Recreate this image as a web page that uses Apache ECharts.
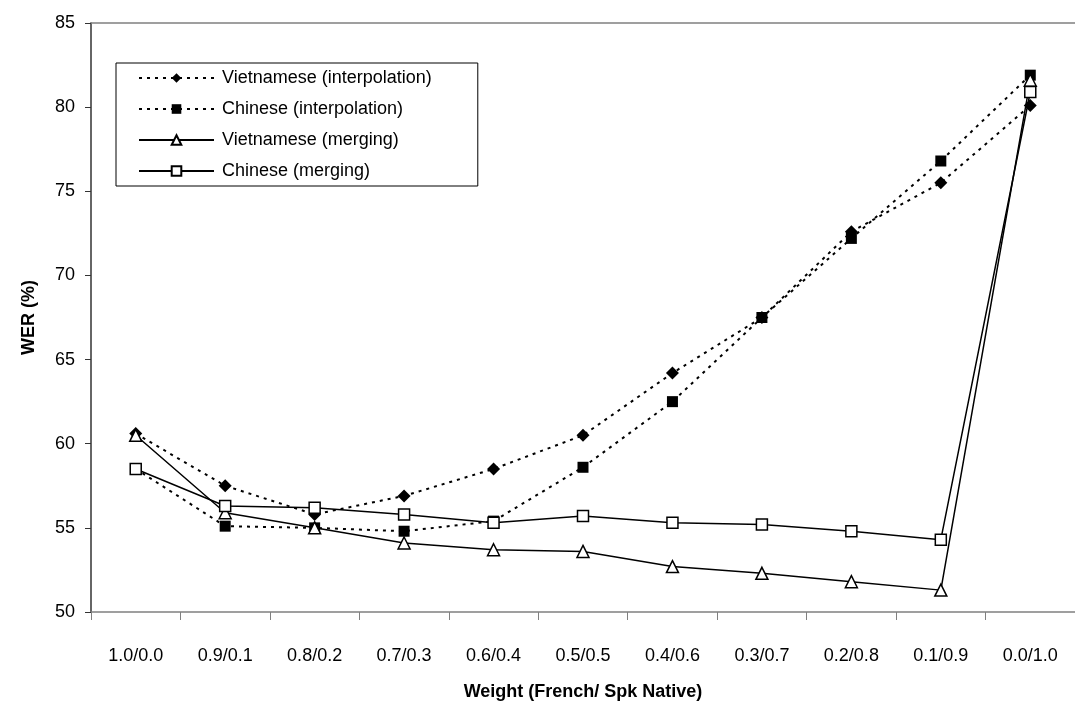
<!DOCTYPE html>
<html>
<head>
    <meta charset="utf-8" />
    <title>WER</title>
    <style>
        html, body { margin: 0; padding: 0; background: #fff; }
        #chart { width: 1075px; height: 702px; }
    </style>
    <script src="https://cdn.jsdelivr.net/npm/echarts@6/dist/echarts.min.js"></script>
</head>
<body>
    <div id="chart"></div>
    <script>
        // 数据
        var categories = ['1.0/0.0', '0.9/0.1', '0.8/0.2', '0.7/0.3', '0.6/0.4', '0.5/0.5',
            '0.4/0.6', '0.3/0.7', '0.2/0.8', '0.1/0.9', '0.0/1.0'];
        var vietInterp = [60.6, 57.5, 55.8, 56.9, 58.5, 60.5, 64.2, 67.5, 72.6, 75.5, 80.1];
        var chineseInterp = [58.5, 55.1, 55.0, 54.8, 55.4, 58.6, 62.5, 67.5, 72.2, 76.8, 81.9];
        var vietMerge = [60.5, 55.9, 55.0, 54.1, 53.7, 53.6, 52.7, 52.3, 51.8, 51.3, 81.6];
        var chineseMerge = [58.5, 56.3, 56.2, 55.8, 55.3, 55.7, 55.3, 55.2, 54.8, 54.3, 80.9];
        var yTicks = [50, 55, 60, 65, 70, 75, 80, 85];

        var font = "'Liberation Sans', Arial, sans-serif";
        var chart = echarts.init(document.getElementById('chart'));

        function lineSeries(name, data, symbol, size, filled, dashed) {
            return {
                name: name,
                type: 'line',
                data: data,
                symbol: symbol,
                symbolSize: size,
                showAllSymbol: true,
                animation: false,
                lineStyle: { color: '#000', width: dashed ? 2 : 1.5, type: dashed ? [3, 5] : 'solid' },
                itemStyle: {
                    color: filled ? '#000' : '#fff',
                    borderColor: '#000',
                    borderWidth: filled ? 0 : 1.5
                }
            };
        }

        var option = {
            backgroundColor: '#fff',
            animation: false,
            textStyle: { fontFamily: font },
            grid: { left: 91, right: 0, top: 23, bottom: 90, outerBoundsMode: 'none', containLabel: false },
            legend: {
                orient: 'vertical',
                left: 116,
                top: 63,
                padding: [6, 46, 6, 22],
                itemWidth: 75,
                itemHeight: 12,
                itemGap: 13,
                borderColor: '#000',
                borderWidth: 1,
                textStyle: { fontSize: 18, color: '#000', fontFamily: font, padding: [0, 0, 0, 3] },
                data: ['Vietnamese (interpolation)', 'Chinese (interpolation)',
                    'Vietnamese (merging)', 'Chinese (merging)']
            },
            xAxis: [{
                type: 'category',
                data: categories,
                boundaryGap: true,
                name: 'Weight (French/ Spk Native)',
                nameLocation: 'middle',
                nameGap: 71,
                nameTextStyle: { fontSize: 18, fontWeight: 'bold', color: '#000', fontFamily: font },
                axisLine: { lineStyle: { color: '#808080', width: 1.5 } },
                axisTick: { show: true, length: 8, alignWithLabel: false, lineStyle: { color: '#808080' } },
                axisLabel: { fontSize: 18, color: '#000', margin: 35, fontFamily: font },
                splitLine: { show: false }
            }, {
                type: 'category',
                position: 'top',
                data: categories,
                axisLine: { lineStyle: { color: '#808080', width: 1.5 } },
                axisTick: { show: false },
                axisLabel: { show: false }
            }],
            yAxis: {
                type: 'value',
                min: yTicks[0],
                max: yTicks[yTicks.length - 1],
                interval: 5,
                name: 'WER (%)',
                nameLocation: 'middle',
                nameGap: 53,
                nameTextStyle: { fontSize: 18, fontWeight: 'bold', color: '#000', fontFamily: font },
                axisLine: { show: true, lineStyle: { color: '#333', width: 1.5 } },
                axisTick: { show: true, length: 6, lineStyle: { color: '#333' } },
                axisLabel: { fontSize: 18, color: '#000', margin: 16, fontFamily: font },
                splitLine: { show: false }
            },
            series: [
                lineSeries('Vietnamese (interpolation)', vietInterp, 'diamond', 13, true, true),
                lineSeries('Chinese (interpolation)', chineseInterp, 'rect', 11, true, true),
                lineSeries('Vietnamese (merging)', vietMerge, 'triangle', 12, false, false),
                lineSeries('Chinese (merging)', chineseMerge, 'rect', 11, false, false)
            ]
        };
        chart.setOption(option);
    </script>
</body>
</html>
